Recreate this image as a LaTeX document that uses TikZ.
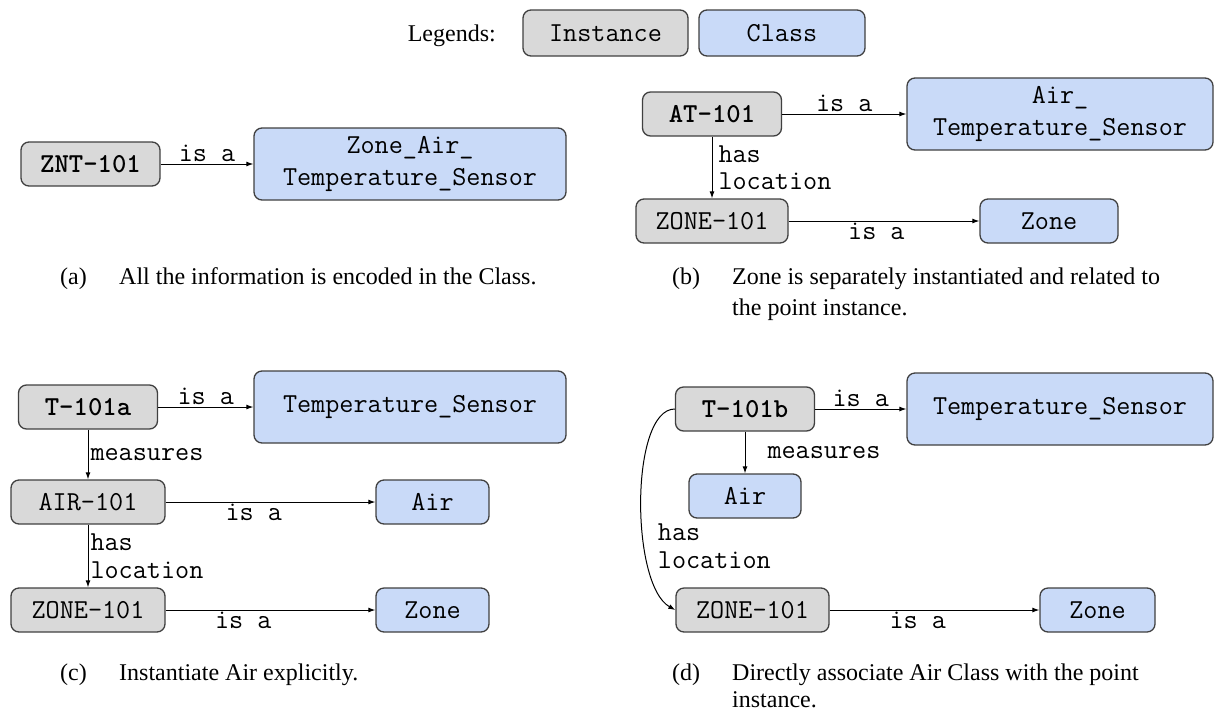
\documentclass[tikz,border=0pt]{standalone}
\usepackage{fontspec}
\setmainfont{Liberation Serif}
\usetikzlibrary{arrows.meta,positioning}
\definecolor{instgray}{HTML}{D9D9D9}
\definecolor{classblue}{HTML}{C9DAF8}
\definecolor{boxline}{HTML}{404040}

\begin{document}
\begin{tikzpicture}[x=1pt,y=-1pt,
  box/.style={draw=boxline, line width=1.3pt, rounded corners=8pt, inner sep=0pt,
    minimum height=44, align=center, font=\ttfamily\fontsize{27.4}{32}\selectfont},
  inst/.style={box, fill=instgray},
  cls/.style={box, fill=classblue},
  rel/.style={-{Latex[length=7pt,width=5pt]}, line width=1pt},
  lbl/.style={font=\ttfamily\fontsize{27.4}{27.5}\selectfont, inner sep=2pt, align=left},
  captext/.style={font=\fontsize{24}{31}\selectfont, inner sep=0pt, anchor=base west}]

\useasboundingbox (0,0) rectangle (1215,710);

% legend
\node[captext, anchor=base east] (leg) at (496,41) {Legends:};
\node[inst, minimum width=165, minimum height=46] (leginst) at (605.5,33) {Instance};
\node[cls, minimum width=166, minimum height=46] (legcls) at (782,33) {Class};

% (a)
\node[inst, minimum width=139] (znt) at (90.5,164) {\textbf{ZNT-101}};
\node[cls, minimum width=312, minimum height=72] (zoneairts) at (410,164) {Zone\_Air\_\\Temperature\_Sensor};
\draw[rel] (znt) -- node[lbl, above] {is a} (zoneairts);

% (b)
\node[inst, minimum width=139] (at) at (712,114) {\textbf{AT-101}};
\node[cls, minimum width=306, minimum height=72] (airts) at (1060,114) {Air\_\\Temperature\_Sensor};
\node[inst, minimum width=152] (zoneb) at (712,221) {ZONE-101};
\node[cls, minimum width=138] (zonecb) at (1049,221) {Zone};
\draw[rel] (at) -- node[lbl, above] {is a} (airts);
\draw[rel] (at) -- node[lbl, right, xshift=4] {has\\location} (zoneb);
\draw[rel] (zoneb) -- node[lbl, below, pos=0.46] {is a} (zonecb);

% (c)
\node[inst, minimum width=139] (t101a) at (88,407) {\textbf{T-101a}};
\node[cls, minimum width=312, minimum height=72] (tsc) at (410,407) {Temperature\_Sensor};
\node[inst, minimum width=154] (air101) at (88,502) {AIR-101};
\node[cls, minimum width=113] (airc) at (432.5,502) {Air};
\node[inst, minimum width=154] (zonec) at (88,610) {ZONE-101};
\node[cls, minimum width=113] (zonecc) at (432.5,610) {Zone};
\draw[rel] (t101a) -- node[lbl, above] {is a} (tsc);
\draw[rel] (t101a) -- node[lbl, right] {measures} (air101);
\draw[rel] (air101) -- node[lbl, below, pos=0.42] {is a} (airc);
\draw[rel] (air101) -- node[lbl, right] {has\\location} (zonec);
\draw[rel] (zonec) -- node[lbl, below, pos=0.37] {is a} (zonecc);

% (d)
\node[inst, minimum width=139] (t101b) at (745,409) {\textbf{T-101b}};
\node[cls, minimum width=306, minimum height=72] (tsd) at (1060,409) {Temperature\_Sensor};
\node[cls, minimum width=112] (aird) at (745,496) {Air};
\node[inst, minimum width=153] (zoned) at (752.5,610) {ZONE-101};
\node[cls, minimum width=115] (zonecd) at (1097.5,610) {Zone};
\draw[rel] (t101b) -- node[lbl, above] {is a} (tsd);
\draw[rel] (t101b) -- node[lbl, right, xshift=20] {measures} (aird);
\draw[rel] (t101b.west) .. controls +(-45,0) and +(-45,-25) .. node[lbl, pos=0.62, right, xshift=12, yshift=-12] {has\\location} (zoned.west);
\draw[rel] (zoned) -- node[lbl, below, pos=0.42] {is a} (zonecd);

% captions
\node[captext] (capa) at (60,284) {(a)};
\node[captext] (capatxt) at (119,284) {All the information is encoded in the Class.};
\node[captext] (capb) at (672,284) {(b)};
\node[captext] (capbtxt) at (732,284) {Zone is separately instantiated and related to};
\node[captext] (capbtxt2) at (732,315) {the point instance.};
\node[captext] (capc) at (60,680) {(c)};
\node[captext] (capctxt) at (119,680) {Instantiate Air explicitly.};
\node[captext] (capd) at (672,680) {(d)};
\node[captext] (capdtxt) at (732,680) {Directly associate Air Class with the point};
\node[captext] (capdtxt2) at (732,707) {instance.};
\end{tikzpicture}
\end{document}
